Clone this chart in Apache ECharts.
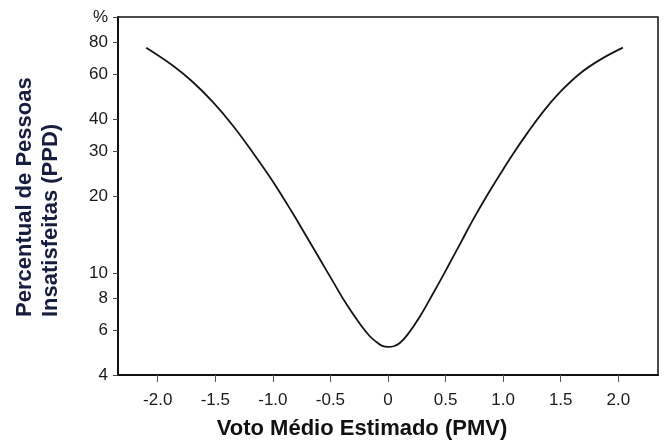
<!DOCTYPE html>
<html>
<head>
<meta charset="utf-8">
<script src="https://cdn.jsdelivr.net/npm/echarts@6/dist/echarts.min.js"></script>
<style>
  html, body { margin: 0; padding: 0; background: #ffffff; }
  #chart { width: 667px; height: 446px; }
</style>
</head>
<body>
<div id="chart"></div>
<script>
// PMV (predicted mean vote) and PPD (predicted percentage dissatisfied, %)
const pmv = [-2.10, -1.87, -1.70, -1.52, -1.35, -1.17, -1.00, -0.83, -0.70, -0.59,
             -0.48, -0.36, -0.24, -0.16, -0.10, -0.05, 0.00, 0.05, 0.10, 0.17,
             0.28, 0.39, 0.51, 0.63, 0.74, 0.86, 1.00, 1.09, 1.21, 1.35,
             1.50, 1.67, 1.84, 2.04];
const ppd = [75.9, 64.7, 56.0, 46.5, 37.8, 29.4, 22.8, 17.2, 13.7, 11.3,
             9.3, 7.55, 6.3, 5.68, 5.38, 5.2, 5.15, 5.18, 5.32, 5.75,
             6.8, 8.3, 10.4, 13.1, 16.2, 20.1, 25.4, 29.4, 35.2, 42.8,
             51.2, 60.3, 68.0, 75.9];

const xTicks = [-2.0, -1.5, -1.0, -0.5, 0, 0.5, 1.0, 1.5, 2.0];
const yTicks = [4, 6, 8, 10, 20, 30, 40, 60, 80, 100];

const xTitle = 'Voto Médio Estimado (PMV)';
const yTitle = 'Percentual de Pessoas\nInsatisfeitas (PPD)';

const chart = echarts.init(document.getElementById('chart'), null, { renderer: 'canvas' });

const labelFont = { fontFamily: 'Liberation Sans, Arial, sans-serif', fontSize: 17, color: '#1a1a1a' };

chart.setOption({
  animation: false,
  backgroundColor: '#ffffff',
  grid: {
    left: 118, right: 9, top: 17, bottom: 71,
    show: true, borderColor: '#111', borderWidth: 1.5, backgroundColor: 'transparent'
  },
  xAxis: {
    type: 'value',
    min: -2.345, max: 2.345,
    axisLine: { show: true, onZero: false, lineStyle: { color: '#111', width: 2 } },
    axisTick: { show: true, inside: false, length: 7, customValues: xTicks,
                lineStyle: { color: '#555', width: 1 } },
    axisLabel: Object.assign({
      customValues: xTicks, margin: 17,
      formatter: v => (v === 0 ? '0' : v.toFixed(1))
    }, labelFont),
    splitLine: { show: false }
  },
  yAxis: {
    type: 'log', logBase: 10,
    min: 4, max: 100,
    axisLine: { show: true, onZero: false, lineStyle: { color: '#111', width: 2 } },
    axisTick: { show: true, inside: false, length: 5, customValues: yTicks,
                lineStyle: { color: '#444', width: 1 } },
    axisLabel: Object.assign({
      customValues: yTicks, margin: 10,
      formatter: v => (Math.abs(v - 100) < 1e-6 ? '%' : String(Math.round(v)))
    }, labelFont),
    splitLine: { show: false },
    minorTick: { show: false }
  },
  graphic: [
    {
      type: 'text', x: 362, y: 429,
      style: {
        text: xTitle, fill: '#111', textAlign: 'center', textVerticalAlign: 'middle',
        font: 'bold 22px "Liberation Sans", Arial, sans-serif'
      }
    },
    {
      type: 'text', x: 38, y: 317, rotation: Math.PI / 2,
      style: {
        text: yTitle, fill: '#171d3f', textAlign: 'left', textVerticalAlign: 'middle',
        lineHeight: 26,
        font: 'bold 22px "Liberation Sans", Arial, sans-serif'
      }
    }
  ],
  series: [{
    type: 'line',
    data: pmv.map((x, i) => [x, ppd[i]]),
    smooth: 0.4,
    showSymbol: false,
    lineStyle: { color: '#151515', width: 1.8 }
  }]
});
</script>
</body>
</html>
